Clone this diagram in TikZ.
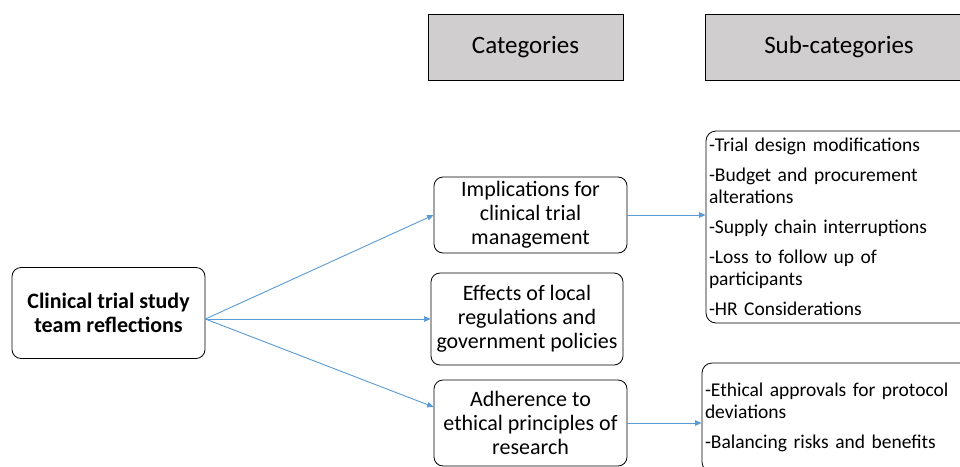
\documentclass[tikz,border=0pt]{standalone}
\usepackage{fontspec}
\setmainfont{Carlito}
\usetikzlibrary{arrows.meta}
\definecolor{arrowblue}{RGB}{91,155,213}
\definecolor{hdrgray}{RGB}{208,206,206}
\begin{document}
\begin{tikzpicture}[x=1pt,y=-1pt,
  hdr/.style={draw=black, fill=hdrgray, line width=0.8pt, minimum height=66pt, font=\fontsize{25}{28}\selectfont, inner sep=0pt},
  cat/.style={draw=black, rounded corners=9pt, line width=0.8pt, align=center, font=\fontsize{22}{24}\selectfont, inner sep=0pt},
  sub/.style={draw=black, rounded corners=10pt, line width=0.8pt, align=left, font=\fontsize{19.5}{22}\selectfont, inner xsep=3pt, inner ysep=0pt, minimum width=300pt, text width=294pt},
  link/.style={-{Triangle[length=6.5pt,width=5.5pt]}, draw=arrowblue, line width=0.9pt}
]
\useasboundingbox (0,0) rectangle (960,466);
\clip (0,0) rectangle (960,466);
\fill[white] (0,0) rectangle (960,466);

\node[hdr, minimum width=195pt] (hcat) at (525.5,47) {Categories};
\node[hdr, minimum width=268pt] (hsub) at (839,47) {Sub-categories};

\node[cat, minimum width=193pt, minimum height=91pt, font=\bfseries\fontsize{22}{24}\selectfont] (root) at (108.5,313) {Clinical trial study\\team reflections};

\node[cat, minimum width=193pt, minimum height=76pt] (impl) at (530.5,215) {Implications for\\clinical trial\\management};
\node[cat, minimum width=192pt, minimum height=92pt] (eff) at (527,319) {Effects of local\\regulations and\\government policies};
\node[cat, minimum width=193pt, minimum height=86pt] (adh) at (530.5,423) {Adherence to\\ethical principles of\\research};

\node[sub, minimum height=192pt] (sub1) at (856,227) {-Trial design modifications\\[8pt]-Budget and procurement\\alterations\\[8pt]-Supply chain interruptions\\[8pt]-Loss to follow up of\\participants\\[8pt]-HR Considerations};
\node[sub, minimum height=109pt] (sub2) at (852,417.5) {-Ethical approvals for protocol\\deviations\\[8pt]-Balancing risks and benefits};

\coordinate (src) at (root.east |- eff.west);
\draw[link] (src) -- (impl.west);
\draw[link] (src) -- (eff.west);
\draw[link] (src) -- ([yshift=16pt]adh.west);
\draw[link] (impl.east) -- (impl.east -| sub1.west);
\draw[link] (adh.east) -- (adh.east -| sub2.west);
\end{tikzpicture}
\end{document}
